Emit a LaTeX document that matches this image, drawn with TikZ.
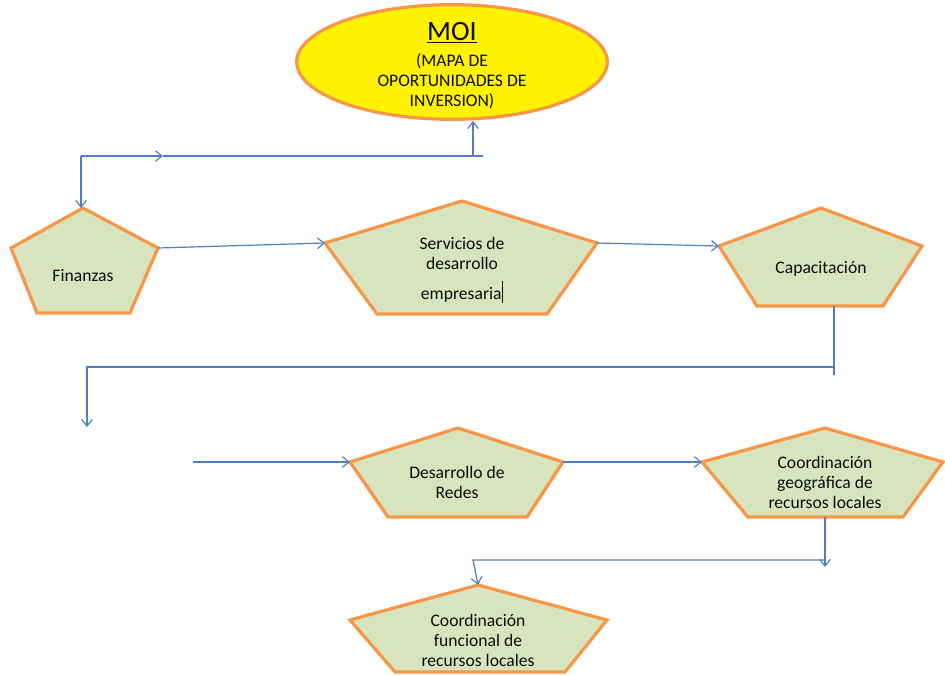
\documentclass[tikz,border=0pt]{standalone}
\usepackage{fontspec}
\setmainfont{Carlito}
\usetikzlibrary{
	arrows.meta,shapes.geometric,positioning,calc
}
\definecolor{flowblue}{HTML}{4F81BD}
\definecolor{boxorange}{HTML}{F79646}
\definecolor{boxgreen}{HTML}{D7E4BD}
\tikzset{
	>={Straight Barb[length=5pt,width=8pt]},
	penta/.style={
		draw=boxorange, line width=2.4pt, fill=boxgreen, line join=miter
	},
	%
	moiellipse/.style={
		ellipse, draw=boxorange, line width=2.4pt, fill=yellow,
		minimum width=233pt, minimum height=86pt
	},
	%
	boxtext/.style={
		align=center, text=black!95, inner sep=0pt,
		font=\fontsize{13.2}{15}\selectfont
	},
	%
	flow/.style={
		draw=flowblue, line width=0.9pt
	}
}

\begin{document}
\begin{tikzpicture}[x=0.75pt,y=-0.75pt]
    \useasboundingbox (0,0) rectangle (945,675);
    \node(moi)[moiellipse] at (452,62){};
    \node(moititle)[boxtext, font=\fontsize{21}{24}\selectfont] at (452,33){\underline{MOI}};
    \node(moisub)[boxtext] at (452,81){(MAPA DE\\OPORTUNIDADES DE\\INVERSION)};
    % first row
    \draw[penta] (83,208) coordinate (fin-t) -- (158,248) coordinate (fin-r) -- (130,313) -- (37,313) -- (11,248) coordinate (fin-l) -- cycle;
    \node(fin)[boxtext] at (83,276){Finanzas};
    \draw[penta] (462,201) coordinate (ser-t) -- (597,243) coordinate (ser-r) -- (547,314) -- (377,314) -- (325,243) coordinate (ser-l) -- cycle;
    \node(ser)[boxtext] at (462,270){Servicios de\\desarrollo\\[7pt]empresaria\rule[-0.2em]{1.1pt}{1.2em}};
    \draw[penta] (821,208) coordinate (cap-t) -- (922,246) coordinate (cap-r) -- (883,306) -- (757,306) -- (719,246) coordinate (cap-l) -- cycle;
    \node(cap)[boxtext] at (821,269){Capacitación};
    % second row
    \draw[penta] (458,428) coordinate (des-t) -- (563,462) coordinate (des-r) -- (527,517) -- (388,517) -- (350,462) coordinate (des-l) -- cycle;
    \node(des)[boxtext] at (457,482){Desarrollo de\\Redes};
    \draw[penta] (825,428) coordinate (geo-t) -- (943,462) coordinate (geo-r) -- (903,517) -- (748,517) -- (702,462) coordinate (geo-l) -- cycle;
    \node(geo)[boxtext] at (825,482){Coordinación\\geográfica de\\recursos locales};
    \draw[penta] (478,585) coordinate (fun-t) -- (607,620) coordinate (fun-r) -- (565,672) -- (395,672) -- (350,620) coordinate (fun-l) -- cycle;
    \node(fun)[boxtext] at (478,640){Coordinación\\funcional de\\recursos locales};
    % connectors
    \coordinate(topstart) at (81,156);
    \coordinate(topmid) at (163,156);
    \coordinate(topend) at (483,156);
    \coordinate(moifoot) at (473,156);
    \draw[flow,->] (topstart) -- (topmid);
    \draw[flow] (topmid) -- (topend);
    \draw[flow,->] (moifoot) -- (moifoot |- moi.south);
    \draw[flow,->] (topstart) -- (topstart |- fin-t);
    \draw[flow,->] (fin-r) -- (ser-l);
    \draw[flow,->] (ser-r) -- (cap-l);
    \coordinate(capdrop) at (834,306);
    \coordinate(capturn) at (834,367);
    \coordinate(redesturn) at (87,367);
    \coordinate(redesend) at (87,427);
    \draw[flow] (capdrop) -- ++(0,69);
    \draw[flow,->] (capturn) -- (redesturn) -- (redesend);
    \coordinate(redesstart) at (193,462);
    \draw[flow,->] (redesstart) -- (des-l);
    \draw[flow,->] (des-r) -- (geo-l);
    \coordinate(geodrop) at (825,517);
    \coordinate(geoturn) at (825,560);
    \coordinate(funturn) at (473,560);
    \draw[flow,->] (geodrop) -- ++(0,50);
    \draw[flow,->] (geoturn) -- (funturn) -- (fun-t);
\end{tikzpicture}
\end{document}
